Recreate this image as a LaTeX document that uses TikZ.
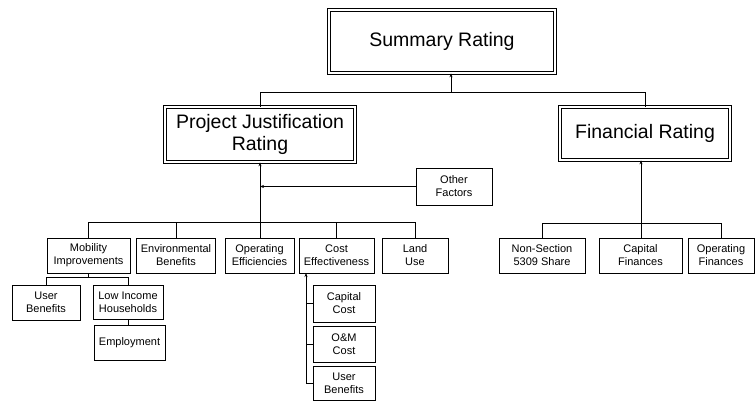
\documentclass[tikz,border=0pt]{standalone}
\usepackage{fontspec}
\setmainfont{Liberation Sans}
\usetikzlibrary{arrows.meta}
\begin{document}
\begin{tikzpicture}[x=1pt,y=-1pt,
  line width=0.6pt,
  box/.style={draw, line width=0.7pt, inner sep=0pt, align=center,
    font=\fontsize{11}{13}\selectfont},
  bigbox/.style={draw, double, double distance=1.8pt, line width=0.7pt,
    inner sep=0pt, align=center, font=\fontsize{19.5}{22}\selectfont},
  arr/.style={-{Stealth[length=4pt,width=3pt]}}]
\useasboundingbox (0,0) rectangle (755,401);
% main boxes
\node[bigbox, minimum width=226pt, minimum height=63pt] (sum) at (442,41.5) {Summary Rating};
\node[bigbox, minimum width=190pt, minimum height=55pt] (pj) at (260,134.5) {Project Justification\\Rating};
\node[bigbox, minimum width=170pt, minimum height=53pt] (fr) at (645,133.5) {Financial Rating};
\node[box, minimum width=76pt, minimum height=37pt] (oth) at (454,186.5) {Other\\Factors};
% second row
\node[box, minimum width=83pt, minimum height=35pt] (mob) at (88.5,255.5) {Mobility\\Improvements};
\node[box, minimum width=79pt, minimum height=35pt] (env) at (176,255.5) {Environmental\\Benefits};
\node[box, minimum width=69pt, minimum height=35pt] (ope) at (259.5,255.5) {Operating\\Efficiencies};
\node[box, minimum width=75pt, minimum height=35pt] (ce) at (336.5,255.5) {Cost\\Effectiveness};
\node[box, minimum width=66pt, minimum height=35pt] (land) at (415,255.5) {Land\\Use};
\node[box, minimum width=86pt, minimum height=35pt] (ns) at (542,255.5) {Non-Section\\5309 Share};
\node[box, minimum width=83pt, minimum height=35pt] (cf) at (640.5,255.5) {Capital\\Finances};
\node[box, minimum width=66pt, minimum height=35pt] (opf) at (721,255.5) {Operating\\Finances};
% mobility children
\node[box, minimum width=68pt, minimum height=35pt] (ub1) at (46,302.5) {User\\Benefits};
\node[box, minimum width=70pt, minimum height=34pt] (lih) at (128,302) {Low Income\\Households};
\node[box, minimum width=71pt, minimum height=35pt] (emp) at (129.5,342.5) {Employment};
% cost effectiveness children
\node[box, minimum width=62pt, minimum height=37pt] (cap) at (344,303.5) {Capital\\Cost};
\node[box, minimum width=62pt, minimum height=36pt] (om) at (344,344) {O\&M\\Cost};
\node[box, minimum width=62pt, minimum height=34pt] (ub2) at (344,383) {User\\Benefits};
% top bus
\coordinate (b1) at (451,93);
\draw (pj.north) -- ++(0,-14) -| (fr.north);
\draw[arr] (b1) -- (b1 |- sum.south);
% project justification subtree
\draw[arr] (ope.north -| pj.south) -- (pj.south);
\draw (mob.north) -- ++(0,-15) -| (land.north);
\draw (env.north) -- ++(0,-15);
\draw (ce.north) -- ++(0,-15);
\draw[arr] (oth.west) -- (oth.west -| pj.south);
% financial subtree
\draw[arr] (cf.north -| 641,0) -- (fr.south -| 641,0);
\draw (ns.north) -- ++(0,-14) -| (opf.north);
% mobility subtree
\draw (ub1.north) -- ++(0,-7) -| (lih.north);
\draw (mob.south) -- (mob.south |- 0,278);
\draw (lih.south) -- (lih.south |- emp.north);
% cost effectiveness subtree
\coordinate (cel) at (306,273);
\draw[arr] (ub2.west) -| (cel);
\draw (cap.west) -- (cap.west -| cel);
\draw (om.west) -- (om.west -| cel);
\end{tikzpicture}
\end{document}
